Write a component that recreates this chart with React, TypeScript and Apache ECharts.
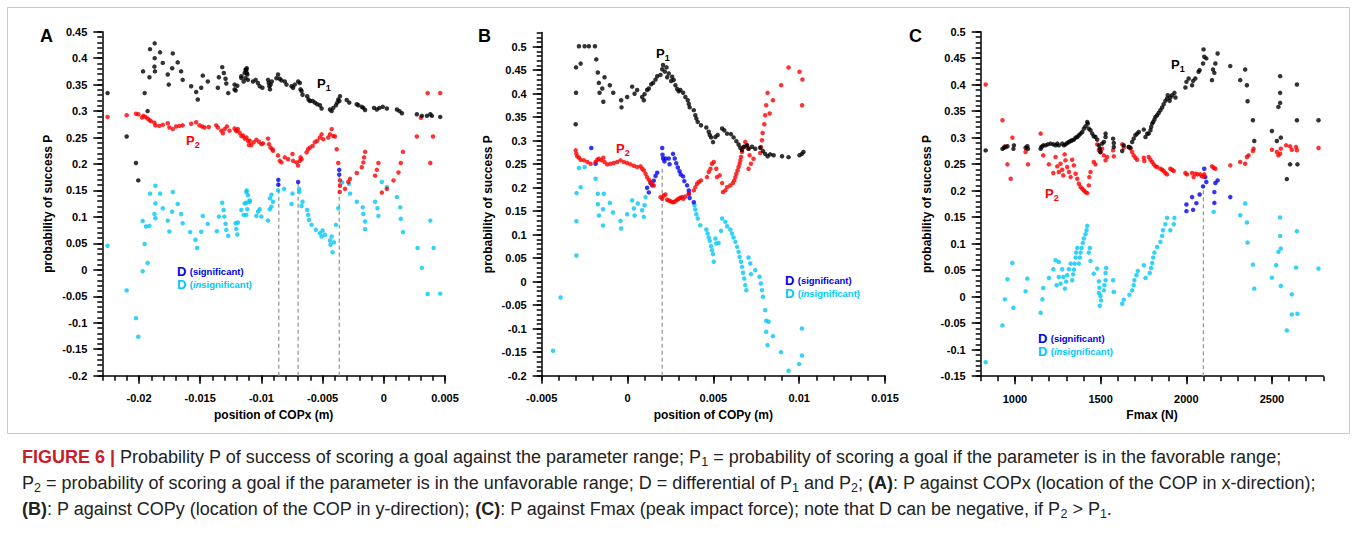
import React, { useEffect, useRef } from "react";
import * as echarts from "echarts";

const FONT = 'Arial, "Liberation Sans", Helvetica, sans-serif';

// ---------- Tick labels ----------
const A_X_TICKS = [-0.02, -0.015, -0.01, -0.005, 0, 0.005];
const A_Y_TICKS = [-0.2, -0.15, -0.1, -0.05, 0, 0.05, 0.1, 0.15, 0.2, 0.25, 0.3, 0.35, 0.4, 0.45];
const B_X_TICKS = [-0.005, 0, 0.005, 0.01, 0.015];
const B_Y_TICKS = [-0.2, -0.15, -0.1, -0.05, 0, 0.05, 0.1, 0.15, 0.2, 0.25, 0.3, 0.35, 0.4, 0.45, 0.5];
const C_X_TICKS = [1000, 1500, 2000, 2500];
const C_Y_TICKS = [-0.15, -0.1, -0.05, 0, 0.05, 0.1, 0.15, 0.2, 0.25, 0.3, 0.35, 0.4, 0.45, 0.5];

// ---------- Panel A: position of COPx ----------
const A_P1 = [[-0.02257,0.334],[-0.02101,0.252],[-0.02025,0.202],[-0.02006,0.169],[-0.01967,0.375],[-0.01954,0.334],[-0.0193,0.3],[-0.01915,0.364],[-0.0191,0.417],[-0.01872,0.428],[-0.01872,0.4],[-0.01874,0.384],[-0.0187,0.375],[-0.01828,0.411],[-0.01806,0.391],[-0.01765,0.369],[-0.01757,0.35],[-0.01724,0.409],[-0.01729,0.381],[-0.01684,0.392],[-0.01656,0.375],[-0.01643,0.359],[-0.01574,0.347],[-0.01533,0.336],[-0.0152,0.322],[-0.01492,0.344],[-0.01479,0.367],[-0.01438,0.356],[-0.01356,0.344],[-0.01348,0.364],[-0.0132,0.383],[-0.01307,0.372],[-0.01293,0.361],[-0.01287,0.352],[-0.01271,0.334],[-0.01219,0.35],[-0.01211,0.339],[-0.01197,0.348],[-0.01164,0.3625],[-0.01145,0.356],[-0.01123,0.378],[-0.0112,0.372],[-0.01219,0.341],[-0.01164,0.366],[-0.01137,0.372],[-0.0113,0.378],[-0.0112,0.381],[-0.01115,0.369],[-0.0111,0.359],[-0.0113,0.362],[-0.01069,0.356],[-0.01047,0.359],[-0.01029,0.353],[-0.01014,0.347],[-0.00992,0.344],[-0.00946,0.359],[-0.0094,0.353],[-0.00935,0.347],[-0.00925,0.35],[-0.00915,0.356],[-0.0093,0.341],[-0.00877,0.362],[-0.00864,0.369],[-0.0085,0.361],[-0.00836,0.358],[-0.00809,0.356],[-0.00795,0.35],[-0.00754,0.347],[-0.00741,0.344],[-0.00727,0.35],[-0.007,0.356],[-0.00686,0.353],[-0.0068,0.341],[-0.00672,0.338],[-0.00664,0.331],[-0.00626,0.328],[-0.00615,0.322],[-0.00604,0.319],[-0.00582,0.319],[-0.00563,0.316],[-0.00544,0.313],[-0.00522,0.311],[-0.00508,0.305],[-0.0044,0.303],[-0.00426,0.3],[-0.00413,0.306],[-0.00391,0.311],[-0.0038,0.316],[-0.00372,0.322],[-0.00358,0.328],[-0.00363,0.319],[-0.00303,0.321],[-0.00282,0.316],[-0.00221,0.313],[-0.00208,0.311],[-0.0018,0.308],[-0.00167,0.306],[-0.00153,0.302],[-0.0008,0.306],[-0.00057,0.303],[-0.00036,0.306],[-0.00008,0.308],[0.00025,0.305],[0.00107,0.303],[0.00128,0.3],[0.00148,0.296],[0.0027,0.294],[0.00311,0.291],[0.00352,0.291],[0.0038,0.294],[0.00393,0.291],[0.00461,0.289]];
const A_P2 = [[-0.02257,0.289],[-0.02101,0.292],[-0.02025,0.295],[-0.02006,0.294],[-0.01975,0.288],[-0.01964,0.291],[-0.01948,0.289],[-0.0193,0.286],[-0.01915,0.283],[-0.01902,0.281],[-0.01874,0.278],[-0.01866,0.273],[-0.01834,0.272],[-0.01806,0.274],[-0.01765,0.277],[-0.01752,0.269],[-0.01724,0.266],[-0.01697,0.271],[-0.0167,0.272],[-0.01643,0.273],[-0.01574,0.276],[-0.01533,0.279],[-0.01506,0.273],[-0.01484,0.271],[-0.01465,0.269],[-0.0143,0.27],[-0.01369,0.273],[-0.01356,0.269],[-0.01328,0.263],[-0.01315,0.258],[-0.01301,0.266],[-0.01282,0.271],[-0.0126,0.263],[-0.01219,0.267],[-0.01206,0.264],[-0.01178,0.259],[-0.01151,0.254],[-0.01123,0.25],[-0.0111,0.244],[-0.01102,0.236],[-0.01205,0.2625],[-0.01192,0.266],[-0.01164,0.253],[-0.01137,0.248],[-0.01096,0.244],[-0.01082,0.236],[-0.01063,0.241],[-0.01041,0.246],[-0.0102,0.242],[-0.01,0.2375],[-0.00987,0.239],[-0.00946,0.248],[-0.00938,0.2375],[-0.00926,0.231],[-0.0091,0.228],[-0.00905,0.225],[-0.00864,0.216],[-0.0085,0.206],[-0.00836,0.203],[-0.00809,0.2125],[-0.00782,0.209],[-0.00746,0.219],[-0.00741,0.206],[-0.00713,0.203],[-0.007,0.197],[-0.00686,0.206],[-0.0068,0.2125],[-0.00672,0.209],[-0.00631,0.222],[-0.00618,0.228],[-0.00604,0.231],[-0.00582,0.234],[-0.00563,0.241],[-0.00544,0.244],[-0.00522,0.25],[-0.00508,0.256],[-0.00495,0.247],[-0.00454,0.25],[-0.0044,0.256],[-0.00426,0.266],[-0.00413,0.253],[-0.00399,0.252],[-0.00385,0.228],[-0.00372,0.202],[-0.00358,0.169],[-0.00358,0.159],[-0.0036,0.147],[-0.00317,0.153],[-0.0029,0.166],[-0.00276,0.172],[-0.00221,0.183],[-0.0018,0.194],[-0.00167,0.203],[-0.00161,0.2125],[-0.00153,0.223],[-0.00071,0.178],[-0.00057,0.189],[-0.00044,0.202],[-0.00016,0.146],[0.00025,0.153],[0.00079,0.169],[0.0012,0.184],[0.00139,0.202],[0.00156,0.223],[0.0027,0.252],[0.00303,0.2875],[0.00358,0.334],[0.0038,0.202],[0.00402,0.252],[0.00461,0.334]];
const A_DSIG = [[-0.00862,0.17],[-0.00862,0.161],[-0.007,0.166],[-0.00364,0.189],[-0.00364,0.18]];
const A_DINS = [[-0.01866,0.159],[-0.0191,0.144],[-0.01828,0.144],[-0.01724,0.147],[-0.0112,0.15],[-0.02257,0.0456],[-0.02101,-0.0388],[-0.02025,-0.0913],[-0.02006,-0.1263],[-0.0197,-0.0025],[-0.01954,0.0488],[-0.0193,0.0131],[-0.0197,0.0925],[-0.01943,0.0819],[-0.01915,0.0831],[-0.01874,0.1056],[-0.01866,0.0975],[-0.01866,0.1256],[-0.01806,0.1163],[-0.01765,0.0931],[-0.01752,0.0725],[-0.0173,0.11],[-0.01684,0.1244],[-0.01656,0.1056],[-0.01643,0.0881],[-0.01582,0.0713],[-0.01539,0.0569],[-0.01525,0.0413],[-0.01492,0.0719],[-0.01479,0.1019],[-0.01438,0.0869],[-0.01364,0.0731],[-0.01348,0.1006],[-0.0132,0.1269],[-0.01309,0.1131],[-0.01303,0.1006],[-0.01293,0.0869],[-0.01287,0.0756],[-0.01271,0.0644],[-0.01211,0.0881],[-0.01205,0.0775],[-0.01192,0.0894],[-0.01197,0.0669],[-0.01164,0.1131],[-0.01145,0.1038],[-0.01123,0.1038],[-0.01115,0.1144],[-0.01137,0.1256],[-0.01123,0.1269],[-0.01096,0.1288],[-0.01041,0.1019],[-0.01028,0.11],[-0.01014,0.1144],[-0.01,0.1006],[-0.00946,0.0931],[-0.00932,0.1144],[-0.00918,0.1194],[-0.00905,0.1288],[-0.00754,0.1244],[-0.00672,0.1206],[-0.00664,0.1288],[-0.00626,0.1131],[-0.00618,0.1038],[-0.0061,0.0944],[-0.0059,0.085],[-0.00555,0.0756],[-0.00522,0.0694],[-0.005,0.0744],[-0.00508,0.0631],[-0.00481,0.0663],[-0.0044,0.0556],[-0.00426,0.0631],[-0.00435,0.0475],[-0.00407,0.0519],[-0.00418,0.0331],[-0.00391,0.085],[-0.00372,0.1163],[-0.00221,0.1288],[-0.00172,0.1181],[-0.00167,0.1056],[-0.00153,0.0913],[-0.00153,0.0769],[-0.00071,0.1288],[-0.00052,0.1163],[-0.00044,0.1019],[0.00134,0.1181],[0.00139,0.0963],[0.00156,0.0713],[0.00276,0.0413],[0.00311,0.00375],[0.00358,-0.0456],[0.0038,0.0931],[0.00407,0.0413],[0.00461,-0.045],[-0.00864,0.15],[-0.00815,0.153],[-0.00746,0.144],[-0.00692,0.153],[-0.0069,0.147],[-0.0034,0.165],[-0.00284,0.1625],[-0.00276,0.144],[-0.00016,0.166],[0.00025,0.156],[0.00107,0.1375],[-0.01123,0.147],[-0.0111,0.141],[-0.01096,0.131],[-0.00918,0.142],[-0.0093,0.135]];
const A_DASH_X = [-0.00858, -0.007, -0.00364];
const A_DASH_TOP = [0.165, 0.165, 0.18];

// ---------- Panel B: position of COPy ----------
const B_P1 = [[-0.00302,0.335],[-0.003,0.402],[-0.003,0.456],[-0.00273,0.464],[-0.00283,0.501],[-0.0025,0.501],[-0.00225,0.501],[-0.00211,0.536],[-0.0019,0.501],[-0.00182,0.473],[-0.00173,0.445],[-0.00167,0.423],[-0.00163,0.402],[-0.00147,0.411],[-0.00141,0.383],[-0.00134,0.435],[-0.00103,0.418],[-0.00083,0.402],[-0.00037,0.386],[-0.00035,0.371],[-0.00002,0.393],[0.00027,0.415],[0.00041,0.4],[0.00056,0.408],[0.00085,0.393],[0.00095,0.386],[0.00099,0.399],[0.00114,0.408],[0.00124,0.411],[0.00138,0.42],[0.00149,0.423],[0.00163,0.43],[0.00173,0.437],[0.00192,0.44],[0.00202,0.452],[0.00207,0.461],[0.00217,0.447],[0.00227,0.456],[0.00231,0.435],[0.0024,0.443],[0.00254,0.427],[0.0026,0.436],[0.00269,0.429],[0.00279,0.418],[0.00289,0.41],[0.00298,0.405],[0.00308,0.408],[0.00324,0.402],[0.00337,0.393],[0.00351,0.386],[0.00357,0.378],[0.00362,0.371],[0.00386,0.365],[0.00395,0.354],[0.00401,0.347],[0.00409,0.34],[0.00428,0.333],[0.00459,0.328],[0.00473,0.319],[0.00479,0.312],[0.00487,0.307],[0.00498,0.297],[0.00512,0.308],[0.00525,0.312],[0.00551,0.326],[0.00564,0.322],[0.0058,0.315],[0.00603,0.314],[0.00618,0.307],[0.00634,0.299],[0.00647,0.292],[0.00657,0.285],[0.00667,0.28],[0.0068,0.287],[0.00696,0.29],[0.00705,0.283],[0.00725,0.287],[0.00744,0.283],[0.00773,0.285],[0.00789,0.278],[0.00802,0.272],[0.00816,0.267],[0.00831,0.271],[0.00851,0.269],[0.009,0.267],[0.00938,0.265],[0.01002,0.269],[0.01016,0.272],[0.01025,0.276]];
const B_P2 = [[-0.00302,0.2795],[-0.00298,0.2724],[-0.00293,0.2667],[-0.00283,0.2639],[-0.00273,0.2596],[-0.00254,0.2582],[-0.00234,0.2546],[-0.00215,0.2511],[-0.00186,0.2546],[-0.00176,0.2596],[-0.00167,0.2617],[-0.00153,0.2582],[-0.00141,0.2639],[-0.00134,0.2546],[-0.00118,0.2496],[-0.00099,0.2511],[-0.0008,0.2525],[-0.0006,0.2546],[-0.00041,0.2582],[-0.00021,0.2546],[-0.00002,0.2525],[0.00017,0.2496],[0.00037,0.2468],[0.00056,0.244],[0.00076,0.2454],[0.00085,0.2404],[0.00095,0.2368],[0.00105,0.2297],[0.00114,0.2226],[0.00124,0.2169],[0.00134,0.212],[0.00144,0.2084],[0.00153,0.2048],[0.00192,0.18],[0.00202,0.1764],[0.00211,0.1835],[0.00221,0.1856],[0.00231,0.1743],[0.0024,0.1728],[0.0025,0.1714],[0.0026,0.1693],[0.00269,0.1693],[0.00279,0.1714],[0.00289,0.1743],[0.00298,0.1764],[0.00308,0.1785],[0.00318,0.18],[0.00324,0.1764],[0.00337,0.1814],[0.00357,0.187],[0.00386,0.1942],[0.00395,0.2013],[0.00405,0.2084],[0.00415,0.212],[0.00428,0.2155],[0.00463,0.2226],[0.00473,0.2333],[0.00483,0.2404],[0.00492,0.2511],[0.00502,0.2546],[0.00517,0.2404],[0.00521,0.2226],[0.00537,0.2262],[0.00551,0.2098],[0.00556,0.1906],[0.0057,0.1942],[0.0058,0.2013],[0.00599,0.2048],[0.00614,0.2098],[0.00622,0.2155],[0.00628,0.2226],[0.00634,0.2297],[0.00641,0.2368],[0.00647,0.244],[0.00653,0.2511],[0.00657,0.2582],[0.00661,0.2653],[0.00667,0.276],[0.00676,0.2866],[0.00686,0.2973],[0.00696,0.2902],[0.00705,0.2831],[0.00711,0.2689],[0.00719,0.2511],[0.00705,0.2404],[0.00734,0.2617],[0.00773,0.2738],[0.00777,0.2866],[0.00783,0.3009],[0.00787,0.3165],[0.00797,0.335],[0.00802,0.3542],[0.00808,0.3755],[0.00828,0.3578],[0.00816,0.4018],[0.00847,0.3862],[0.00895,0.4182],[0.00938,0.4559],[0.01002,0.4467],[0.01019,0.4303],[0.01017,0.3755]];
const B_DSIG = [[-0.00211,0.2845],[-0.00186,0.251],[0.00114,0.2],[0.00124,0.19],[0.00134,0.21],[0.00144,0.205],[0.00153,0.215],[0.00163,0.225],[0.00173,0.232],[0.00202,0.2845],[0.00204,0.27],[0.00207,0.262],[0.00215,0.256],[0.00221,0.262],[0.0024,0.262],[0.00245,0.25],[0.00265,0.272],[0.00275,0.262],[0.00284,0.252],[0.00293,0.243],[0.00303,0.235],[0.0031,0.228],[0.00324,0.224],[0.00331,0.214],[0.00347,0.205],[0.00357,0.194],[0.00358,0.187],[0.00362,0.178],[0.00386,0.169]];
const B_DINS = [[-0.00283,0.2418],[-0.00297,0.1885],[-0.00273,0.201],[-0.0025,0.244],[-0.00186,0.219],[-0.00173,0.187],[-0.00138,0.187],[-0.00298,0.1287],[-0.00298,0.0557],[-0.0039,-0.0336],[-0.00434,-0.147],[-0.00173,0.1649],[-0.00167,0.1408],[-0.00143,0.1543],[-0.00143,0.1195],[-0.00103,0.1677],[-0.00085,0.1472],[-0.00041,0.1294],[-0.00037,0.1131],[-0.00002,0.1436],[0.00027,0.173],[0.00037,0.1557],[0.00041,0.1408],[0.0006,0.1663],[0.00085,0.1521],[0.00095,0.138],[0.00099,0.1628],[0.00105,0.18],[0.0039,0.1628],[0.00395,0.1535],[0.00401,0.1436],[0.00409,0.1344],[0.00424,0.1202],[0.00459,0.111],[0.00467,0.1025],[0.00473,0.094],[0.00479,0.0869],[0.00487,0.0756],[0.00492,0.0671],[0.00498,0.0586],[0.00502,0.0423],[0.00512,0.0919],[0.00517,0.0813],[0.00531,0.0827],[0.00545,0.1082],[0.00551,0.1344],[0.0057,0.1273],[0.0058,0.1181],[0.00599,0.111],[0.00609,0.1025],[0.00618,0.094],[0.00628,0.0848],[0.00638,0.0742],[0.00647,0.0635],[0.00653,0.0529],[0.00661,0.0423],[0.00667,0.0316],[0.00673,0.0189],[0.0068,0.0068],[0.00686,-0.0073],[0.00692,-0.018],[0.00705,0.0515],[0.00715,0.0387],[0.00719,0.0161],[0.00744,0.0246],[0.00769,0.0104],[0.00777,-0.0038],[0.00783,-0.018],[0.00789,-0.0321],[0.00802,-0.0605],[0.00808,-0.0832],[0.00822,-0.0853],[0.00808,-0.1066],[0.00816,-0.1349],[0.00847,-0.1158],[0.00894,-0.1498],[0.00938,-0.1895],[0.01,-0.1753],[0.01016,-0.0995],[0.01016,-0.1569]];
const B_DASH_X = [0.00202];
const B_DASH_TOP = [0.245];

// ---------- Panel C: Fmax ----------
const C_P1 = [[829,0.276],[927,0.279],[936,0.281],[946,0.2825],[956,0.284],[991,0.279],[994,0.2856],[1062,0.281],[1072,0.284],[1076,0.279],[1150,0.279],[1154,0.2825],[1165,0.2856],[1179,0.2856],[1192,0.2875],[1208,0.2888],[1224,0.2875],[1237,0.2856],[1247,0.2888],[1256,0.2856],[1276,0.2888],[1286,0.2856],[1295,0.2875],[1305,0.29],[1315,0.2919],[1325,0.2938],[1334,0.2951],[1344,0.2963],[1354,0.3001],[1364,0.3014],[1373,0.3045],[1383,0.3077],[1393,0.3108],[1402,0.3171],[1412,0.3216],[1422,0.3298],[1425,0.3266],[1431,0.3171],[1441,0.314],[1451,0.3077],[1460,0.3026],[1470,0.3014],[1480,0.2963],[1490,0.2856],[1495,0.2793],[1499,0.273],[1509,0.2888],[1519,0.2919],[1529,0.3014],[1529,0.3077],[1573,0.2982],[1577,0.29],[1577,0.2825],[1626,0.2749],[1635,0.2856],[1664,0.2825],[1674,0.2812],[1684,0.2919],[1693,0.2982],[1703,0.3045],[1713,0.3077],[1723,0.3108],[1752,0.3153],[1762,0.3014],[1772,0.3077],[1781,0.3077],[1791,0.314],[1795,0.3203],[1801,0.3266],[1807,0.3298],[1814,0.3342],[1820,0.3392],[1830,0.3424],[1839,0.3468],[1849,0.3518],[1859,0.3569],[1868,0.3632],[1878,0.3695],[1888,0.3739],[1892,0.3802],[1903,0.3695],[1907,0.3758],[1917,0.3802],[1931,0.3846],[1937,0.3758],[1995,0.3947],[2001,0.4054],[2014,0.4117],[2034,0.3991],[2040,0.4073],[2053,0.4117],[2072,0.4243],[2078,0.4275],[2098,0.4401],[2101,0.4666],[2105,0.4527],[2117,0.4496],[2150,0.4086],[2156,0.4288],[2164,0.4224],[2170,0.4401],[2183,0.459],[2257,0.4351],[2315,0.4086],[2344,0.4288],[2354,0.3991],[2358,0.3689],[2389,0.3329],[2397,0.2938],[2500,0.3127],[2529,0.2938],[2538,0.3581],[2548,0.3657],[2548,0.3846],[2548,0.4161],[2552,0.3001],[2587,0.2219],[2606,0.2497],[2646,0.4004],[2646,0.3329],[2649,0.2497],[2772,0.3329]];
const C_P2 = [[829,0.4004],[927,0.3329],[940,0.2837],[956,0.2497],[985,0.3001],[975,0.2226],[1062,0.273],[1076,0.2497],[1150,0.3077],[1160,0.2837],[1165,0.2667],[1198,0.2497],[1224,0.2333],[1237,0.2636],[1247,0.2459],[1256,0.2352],[1266,0.2509],[1276,0.2396],[1282,0.2289],[1290,0.2686],[1295,0.2573],[1305,0.2446],[1315,0.2352],[1325,0.2257],[1334,0.2585],[1344,0.2478],[1354,0.232],[1364,0.2226],[1373,0.2131],[1383,0.2068],[1393,0.2037],[1402,0.2005],[1412,0.1974],[1422,0.1955],[1431,0.21],[1434,0.2257],[1441,0.2352],[1460,0.2541],[1470,0.2497],[1480,0.2875],[1490,0.2762],[1499,0.273],[1509,0.2793],[1519,0.2667],[1529,0.2573],[1538,0.2636],[1573,0.2762],[1577,0.2648],[1626,0.2875],[1635,0.2812],[1664,0.2825],[1674,0.2793],[1684,0.273],[1693,0.2667],[1703,0.2623],[1713,0.2585],[1752,0.2623],[1755,0.256],[1781,0.2636],[1791,0.2585],[1801,0.2541],[1810,0.2497],[1820,0.2459],[1830,0.2446],[1849,0.2415],[1859,0.2396],[1868,0.2371],[1878,0.2333],[1888,0.2308],[1907,0.2415],[1917,0.2396],[1927,0.2371],[1995,0.2333],[2004,0.2308],[2034,0.2333],[2043,0.2257],[2053,0.232],[2066,0.2308],[2082,0.2308],[2092,0.227],[2101,0.227],[2105,0.2308],[2150,0.2459],[2160,0.2434],[2170,0.2415],[2257,0.2478],[2315,0.2541],[2344,0.2509],[2354,0.2636],[2364,0.2667],[2389,0.2749],[2393,0.2793],[2500,0.2774],[2529,0.273],[2538,0.2667],[2548,0.2699],[2552,0.2793],[2583,0.2856],[2606,0.2837],[2616,0.2774],[2641,0.2825],[2646,0.2762],[2772,0.2806]];
const C_DSIG = [[2105,0.2415],[2111,0.2257],[2117,0.2163],[2098,0.2081],[2170,0.2144],[2183,0.2194],[2164,0.1974],[2078,0.1929],[2034,0.1879],[2059,0.1765],[2001,0.174],[2040,0.1639],[2001,0.1614],[2257,0.1879],[2164,0.177]];
const C_DINS = [[829,-0.1235],[927,-0.0542],[941,-0.005],[956,0.0328],[985,0.0637],[991,-0.0208],[1062,0.0101],[1072,0.0341],[1150,-0.0302],[1160,-0.005],[1165,0.0164],[1198,0.0353],[1224,0.0517],[1237,0.0687],[1243,0.0215],[1256,0.0656],[1256,0.0372],[1266,0.0246],[1276,0.0517],[1282,0.0372],[1292,0.0152],[1299,0.0284],[1305,0.0404],[1315,0.0517],[1325,0.0624],[1334,0.0309],[1340,0.0422],[1344,0.0511],[1348,0.0624],[1354,0.0738],[1357,0.0832],[1364,0.092],[1373,0.0624],[1379,0.0738],[1383,0.0832],[1389,0.092],[1396,0.1015],[1402,0.1097],[1412,0.1179],[1418,0.1254],[1422,0.1336],[1431,0.0832],[1437,0.092],[1441,0.0675],[1460,0.0435],[1480,0.053],[1490,0.029],[1493,0.017],[1490,0.0069],[1499,0.0013],[1503,-0.0069],[1495,-0.017],[1519,0.012],[1522,0.0215],[1529,0.0309],[1529,0.0448],[1532,0.0542],[1573,0.0309],[1577,0.0089],[1626,-0.0132],[1635,-0.0056],[1668,0.0038],[1684,0.012],[1693,0.0215],[1697,0.0309],[1709,0.0404],[1717,0.0486],[1752,0.0593],[1762,0.0353],[1787,0.0448],[1795,0.0542],[1801,0.0637],[1807,0.0738],[1814,0.0832],[1830,0.0939],[1849,0.1034],[1859,0.1147],[1864,0.1254],[1878,0.1368],[1888,0.1487],[1907,0.1254],[1927,0.1368],[1931,0.1487],[2160,0.16],[2344,0.1758],[2315,0.1538],[2354,0.14],[2358,0.1021],[2389,0.0605],[2397,0.0152],[2500,0.0359],[2525,0.0593],[2548,0.1494],[2548,0.1147],[2538,0.0845],[2552,0.0908],[2552,0.0202],[2587,-0.0636],[2616,0.0044],[2616,-0.0334],[2649,-0.0321],[2646,0.1235],[2641,0.0549],[2772,0.053]];
const C_DASH_X = [2100];
const C_DASH_TOP = [0.21];

const BLACK = "#000000";
const RED = "#ff0000";
const BLUE = "#0000f0";
const CYAN = "#00c8f8";

function steps(a: number, b: number, s: number) {
  const out: number[] = [];
  const n = Math.round((b - a) / s);
  for (let k = 0; k <= n; k++) out.push(+(a + k * s).toFixed(6));
  return out;
}

function fmt(v: number) {
  if (Math.abs(v) < 1e-12) return "0";
  return String(parseFloat((+v).toFixed(5)));
}

const PANELS = [
  {
    grid: { left: 102.3, top: 31.7, width: 342.7, height: 344 },
    xMin: -0.023, xMax: 0.005, yMin: -0.2, yMax: 0.45,
    xTicks: A_X_TICKS, yTicks: A_Y_TICKS, xMinor: steps(-0.023, 0.005, 0.001), yMinor: steps(-0.2, 0.45, 0.01),
    xName: "position of COPx (m)",
    p1: A_P1, p2: A_P2, dsig: A_DSIG, dins: A_DINS, dashX: A_DASH_X, dashTop: A_DASH_TOP,
  },
  {
    grid: { left: 541.7, top: 32.6, width: 343.3, height: 343.1 },
    xMin: -0.005, xMax: 0.015, yMin: -0.2, yMax: 0.53,
    xTicks: B_X_TICKS, yTicks: B_Y_TICKS, xMinor: steps(-0.005, 0.015, 0.001), yMinor: steps(-0.2, 0.53, 0.01),
    xName: "position of COPy (m)",
    p1: B_P1, p2: B_P2, dsig: B_DSIG, dins: B_DINS, dashX: B_DASH_X, dashTop: B_DASH_TOP,
  },
  {
    grid: { left: 980.7, top: 31.7, width: 342.6, height: 344.5 },
    xMin: 800, xMax: 2800, yMin: -0.15, yMax: 0.5,
    xTicks: C_X_TICKS, yTicks: C_Y_TICKS, xMinor: steps(800, 2800, 100), yMinor: steps(-0.15, 0.5, 0.01),
    xName: "Fmax (N)",
    p1: C_P1, p2: C_P2, dsig: C_DSIG, dins: C_DINS, dashX: C_DASH_X, dashTop: C_DASH_TOP,
  },
];

function buildOption() {
  const grids: any[] = [];
  const xAxes: any[] = [];
  const yAxes: any[] = [];
  const series: any[] = [];
  const lineStyle = { color: "#000", width: 1.5 };
  PANELS.forEach((p, i) => {
    grids.push({ ...p.grid, outerBoundsMode: "none", containLabel: false });
    xAxes.push({
      gridIndex: i, type: "value", min: p.xMin, max: p.xMax, position: "bottom",
      axisLine: { show: true, onZero: false, lineStyle },
      axisTick: { show: true, length: 8, customValues: p.xTicks, lineStyle },
      axisLabel: { customValues: p.xTicks, formatter: (v: number) => fmt(v), margin: 17, color: "#000", fontFamily: FONT, fontWeight: "bold", fontSize: 11 },
      splitLine: { show: false },
      name: p.xName, nameLocation: "middle", nameGap: 31,
      nameTextStyle: { color: "#000", fontFamily: FONT, fontWeight: "bold", fontSize: 12 },
    });
    xAxes.push({
      gridIndex: i, type: "value", min: p.xMin, max: p.xMax, position: "bottom",
      axisLine: { show: false, onZero: false },
      axisTick: { show: true, length: 5, customValues: p.xMinor, lineStyle },
      axisLabel: { show: false }, splitLine: { show: false },
    });
    yAxes.push({
      gridIndex: i, type: "value", min: p.yMin, max: p.yMax, position: "left",
      axisLine: { show: true, onZero: false, lineStyle },
      axisTick: { show: true, length: 9, customValues: p.yTicks, lineStyle },
      axisLabel: { customValues: p.yTicks, formatter: (v: number) => fmt(v), margin: 15, color: "#000", fontFamily: FONT, fontWeight: "bold", fontSize: 11 },
      splitLine: { show: false },
      name: "probability of success P", nameLocation: "middle", nameGap: 48,
      nameTextStyle: { color: "#000", fontFamily: FONT, fontWeight: "bold", fontSize: 12 },
    });
    yAxes.push({
      gridIndex: i, type: "value", min: p.yMin, max: p.yMax, position: "left",
      axisLine: { show: false, onZero: false },
      axisTick: { show: true, length: 5, customValues: p.yMinor, lineStyle },
      axisLabel: { show: false }, splitLine: { show: false },
    });
    const xi = 2 * i, yi = 2 * i;
    p.dashX.forEach((x, k) => {
      series.push({
        type: "line", xAxisIndex: xi, yAxisIndex: yi, silent: true, symbol: "none", z: 1,
        data: [[x, p.yMin], [x, p.dashTop[k]]],
        lineStyle: { color: "#9a9a9a", width: 1.3, type: [4, 3] },
      });
    });
    const sc = (data: number[][], color: string, z: number) => ({
      type: "scatter", xAxisIndex: xi, yAxisIndex: yi, silent: true, data,
      symbol: "circle", symbolSize: 4.5, itemStyle: { color }, z,
    });
    series.push(sc(p.dins, CYAN, 2));
    series.push(sc(p.dsig, BLUE, 3));
    series.push(sc(p.p2, RED, 4));
    series.push(sc(p.p1, BLACK, 5));
  });

  const pLabel = (x: number, y: number, n: string, color: string) => ({
    type: "text", x, y, z: 20,
    style: {
      text: `{a|P}{b|${n}}`, fill: color, textVerticalAlign: "middle",
      rich: {
        a: { fontFamily: FONT, fontWeight: "bold", fontSize: 13, fill: color, lineHeight: 18 },
        b: { fontFamily: FONT, fontWeight: "bold", fontSize: 9, fill: color, lineHeight: 10, verticalAlign: "bottom" },
      },
    },
  });
  const dLabels = (x: number, y: number) => [
    {
      type: "text", x, y, z: 20,
      style: {
        text: "{d|D} {s|(significant)}", textVerticalAlign: "middle",
        rich: {
          d: { fontFamily: FONT, fontWeight: "bold", fontSize: 13, fill: BLUE },
          s: { fontFamily: FONT, fontWeight: "bold", fontSize: 9.5, fill: BLUE },
        },
      },
    },
    {
      type: "text", x, y: y + 13.5, z: 20,
      style: {
        text: "{d|D} {s|(}{i|in}{s|significant)}", textVerticalAlign: "middle",
        rich: {
          d: { fontFamily: FONT, fontWeight: "bold", fontSize: 13, fill: CYAN },
          s: { fontFamily: FONT, fontWeight: "bold", fontSize: 9.5, fill: CYAN },
          i: { fontFamily: FONT, fontWeight: "bold", fontStyle: "italic", fontSize: 9.5, fill: CYAN },
        },
      },
    },
  ];
  const letter = (x: number, t: string) => ({
    type: "text", x, y: 36, z: 20,
    style: { text: t, fill: "#000", fontFamily: FONT, fontWeight: "bold", fontSize: 18, textVerticalAlign: "middle" },
  });

  const CAP = 18;
  const capRich = {
    fig: { fontFamily: FONT, fontWeight: "bold", fontSize: CAP, fill: "#c8202a" },
    b: { fontFamily: FONT, fontWeight: "bold", fontSize: CAP, fill: "#222" },
    sub: { fontFamily: FONT, fontSize: 12.5, fill: "#222", verticalAlign: "bottom", lineHeight: 14 },
  };
  const capLine = (y: number, text: string) => ({
    type: "text", x: 22, y, z: 20,
    style: {
      text, fill: "#222", fontFamily: FONT, fontSize: CAP, lineHeight: 23, textVerticalAlign: "middle",
      rich: capRich,
    },
  });

  const graphic: any[] = [
    { type: "rect", shape: { x: 7.5, y: 7.5, width: 1342, height: 426 }, style: { fill: "none", stroke: "#c9c9c9", lineWidth: 1 }, z: 0, silent: true },
    letter(40, "A"), letter(478, "B"), letter(909, "C"),
    pLabel(317, 83, "1", BLACK), pLabel(186, 140, "2", RED),
    pLabel(656, 53, "1", BLACK), pLabel(616, 148, "2", RED),
    pLabel(1171, 64, "1", BLACK), pLabel(1045, 193, "2", RED),
    ...dLabels(177, 271), ...dLabels(785, 280), ...dLabels(1038, 338),
    capLine(457, "{fig|FIGURE 6 |} Probability P of success of scoring a goal against the parameter range; P{sub|1} = probability of scoring a goal if the parameter is in the favorable range;"),
    capLine(483, "P{sub|2} = probability of scoring a goal if the parameter is in the unfavorable range; D = differential of P{sub|1} and P{sub|2}; {b|(A)}: P against COPx (location of the COP in x-direction);"),
    capLine(509, "{b|(B)}: P against COPy (location of the COP in y-direction); {b|(C)}: P against Fmax (peak impact force); note that D can be negative, if P{sub|2} > P{sub|1}."),
  ];

  return {
    animation: false,
    backgroundColor: "#ffffff",
    grid: grids,
    xAxis: xAxes,
    yAxis: yAxes,
    series,
    graphic: { elements: graphic },
  };
}

export default function App() {
  const ref = useRef<HTMLDivElement>(null);
  useEffect(() => {
    if (!ref.current) return;
    const chart = echarts.init(ref.current, undefined, { renderer: "svg" });
    chart.setOption(buildOption() as any);
    return () => chart.dispose();
  }, []);
  return (
    <div
      ref={ref}
      style={{ position: "fixed", left: 0, top: 0, width: 1357, height: 539, background: "#fff" }}
    />
  );
}
